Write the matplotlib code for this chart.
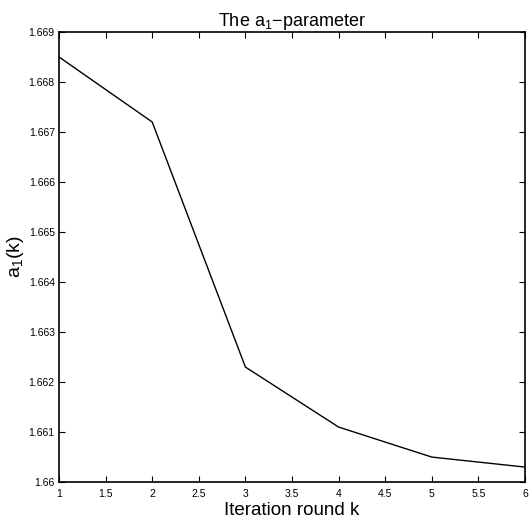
import matplotlib.pyplot as plt
from matplotlib.ticker import FormatStrFormatter

plt.rcParams['font.family'] = ['Liberation Sans', 'DejaVu Sans']
plt.rcParams['mathtext.fontset'] = 'custom'
plt.rcParams['mathtext.rm'] = 'Liberation Sans'
plt.rcParams['mathtext.it'] = 'Liberation Sans'

# valeurs
iterations = [1, 2, 3, 4, 5, 6]
a1_values = [1.6685, 1.6672, 1.6623, 1.6611, 1.6605, 1.6603]
x_ticks = [1, 1.5, 2, 2.5, 3, 3.5, 4, 4.5, 5, 5.5, 6]
y_ticks = [1.66, 1.661, 1.662, 1.663, 1.664, 1.665, 1.666, 1.667, 1.668, 1.669]

fig = plt.figure(figsize=(5.29, 5.24), dpi=100)
ax = fig.add_axes([0.1115, 0.080, 0.881, 0.859])

ax.plot(iterations, a1_values, color='black', linewidth=1.0)

ax.set_xlim(1, 6)
ax.set_ylim(1.66, 1.669)
ax.set_xticks(x_ticks)
ax.set_yticks(y_ticks)
ax.xaxis.set_major_formatter(FormatStrFormatter('%g'))
ax.yaxis.set_major_formatter(FormatStrFormatter('%g'))
ax.tick_params(direction='in', top=True, right=True, length=4, width=0.8,
               labelsize=7.5)
ax.tick_params(axis='x', pad=5)
ax.tick_params(axis='y', pad=3)
for s in ax.spines.values():
    s.set_linewidth(1.2)

ax.set_xlabel('Iteration round k', fontsize=13.5, labelpad=2)
ax.set_ylabel('a$_1$(k)', fontsize=14, labelpad=2)
ax.set_title('The a$_1$\u2212parameter', fontsize=13, pad=4)

plt.savefig('out.png', dpi=100)
